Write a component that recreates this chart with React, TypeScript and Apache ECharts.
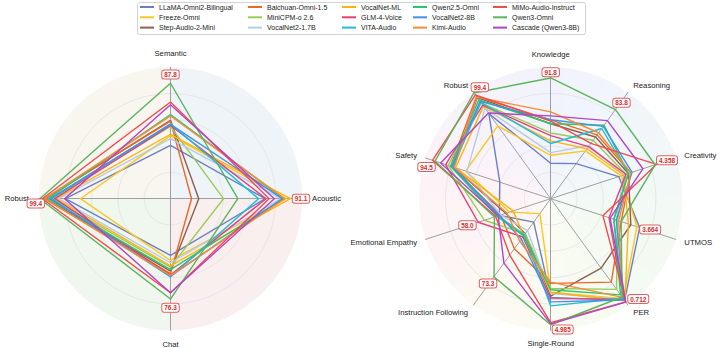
import React, { useEffect, useRef } from 'react';
import * as echarts from 'echarts';

const models = [
  'LLaMA-Omni2-Bilingual', 'Freeze-Omni', 'Step-Audio-2-Mini',
  'Baichuan-Omni-1.5', 'MiniCPM-o 2.6', 'VocalNet2-1.7B',
  'VocalNet-ML', 'GLM-4-Voice', 'VITA-Audio',
  'Qwen2.5-Omni', 'VocalNet2-8B', 'Kimi-Audio',
  'MiMo-Audio-Instruct', 'Qwen3-Omni', 'Cascade (Qwen3-8B)',
];
const seriesColors = [
  '#6b7fc4', '#ffc61e', '#8c6050',
  '#f26522', '#9bcb58', '#b3cde8',
  '#ffb20f', '#e5407a', '#22bcd4',
  '#27c96a', '#3f92e8', '#f58b38',
  '#f24b4b', '#5ab55e', '#b244c8',
];

// Left radar (order counter-clockwise from top)
const leftAxisNames = ['Semantic', 'Robust', 'Chat', 'Acoustic'];
const semantic = [40.6, 48.0, 59.6, 59.0, 55.0, 45.6, 49.0, 55.8, 57.0, 64.0, 56.5, 63.0, 73.5, 87.8, 71.5];
const robust = [80.0, 68.5, 95.0, 96.0, 90.0, 85.0, 87.0, 88.0, 90.5, 93.0, 91.5, 95.5, 97.5, 99.4, 80.5];
const chat = [43.1, 47.0, 55.0, 57.0, 52.0, 48.7, 51.0, 58.0, 59.5, 54.0, 59.0, 58.5, 71.5, 76.3, 71.5];
const acoustic = [72.0, 88.0, 21.5, 16.0, 40.3, 84.0, 91.1, 72.7, 67.0, 86.0, 85.0, 87.0, 75.0, 51.2, 79.0];

// Right radar (order counter-clockwise from top)
const rightAxisNames = [
  'Knowledge', 'Robust', 'Safety', 'Emotional Empathy', 'Instruction Following',
  'Single-Round', 'PER', 'UTMOS', 'Creativity', 'Reasoning',
];
const knowledge = [27, 33, 57, 60, 50, 35, 44, 48, 42, 57, 60, 66, 59, 91.8, 63];
const safety = [40.7, 68, 78, 80, 82, 67, 76, 84, 78, 80, 79, 77, 94.5, 92.5, 88];
const emotionalEmpathy = [41, 33, 36, 40, 53, 40, 30, 58.0, 42, 43, 41, 35, 44, 45, 42];
const instructionFollowing = [22, 14, 33, 47, 33, 30, 35, 36, 34, 35, 38, 40, 53, 73.3, 60.5];
const singleRound = [3.9, 3.7, 3.85, 3.35, 3.55, 3.75, 3.7, 3.95, 4.24, 3.6, 4.08, 3.3, 4.9, 4.985, 4.95];
const per = [1.1, 1.5, 8.7, 5.4, 3.7, 1.3, 1.0, 1.4, 1.6, 2.4, 1.2, 1.8, 0.75, 1.9, 0.712];
const utmos = [3.664, 3.55, 3.3, 2.9, 2.75, 2.7, 3.2, 2.4, 2.6, 2.6, 2.7, 2.8, 2.15, 2.9, 2.45];
const creativity = [2.8, 2.9, 3.2, 3.3, 3.1, 3.0, 3.0, 3.1, 3.2, 3.2, 3.35, 3.3, 4.358, 4.3, 3.8];
const reasoning = [33, 45, 58, 60, 55, 50, 47, 49, 66, 69, 68, 62, 52, 83.8, 73.4];

const PER_CAP = 25; // PER is lower-is-better: plotted as PER_CAP - PER

const FONT = "'Liberation Sans', Arial, Helvetica, sans-serif";

const leftCols = [semantic, robust, chat, acoustic];
const leftMax = [100, 100, 100, 100];
const leftDec = [1, 1, 1, 1];
const rightCols = [knowledge, robust, safety, emotionalEmpathy, instructionFollowing, singleRound, per, utmos, creativity, reasoning];
const rightMax = [100, 100, 100, 100, 100, 5.2, PER_CAP, 5.15, 5.15, 100];
const rightDec = [1, 1, 1, 1, 1, 3, 3, 3, 3, 1];
const rightLowerBetter = [false, false, false, false, false, false, true, false, false, false];

const CL: [number, number] = [170.5, 198.7];
const CR: [number, number] = [550.7, 198.7];
const R = 131.5;

// label placement per axis (style only)
const leftLabelPos: any[] = [
  { position: 'top', distance: 5, offset: [0, 0] },
  { position: 'bottom', distance: 1, offset: [-4, 0] },
  { position: 'bottom', distance: 5, offset: [0, 0] },
  { position: 'right', distance: 2, offset: [0, 0] },
];
const rightLabelPos: any[] = [
  { position: 'top', distance: 2, offset: [0, 0] },
  { position: 'top', distance: 2, offset: [6, 0] },
  { position: 'bottom', distance: 3, offset: [-6, 0] },
  { position: 'left', distance: 2, offset: [0, 3] },
  { position: 'bottom', distance: 3, offset: [-6, 0] },
  { position: 'bottom', distance: 1, offset: [12, 0] },
  { position: 'right', distance: 2, offset: [0, -3] },
  { position: 'right', distance: 0, offset: [0, 2] },
  { position: 'right', distance: 0, offset: [0, -4] },
  { position: 'top', distance: 3, offset: [6, 0] },
];

function hexToRgb(h: string) {
  const v = parseInt(h.slice(1), 16);
  return [(v >> 16) & 255, (v >> 8) & 255, v & 255];
}
function lerpColor(a: string, b: string, t: number) {
  const A = hexToRgb(a), B = hexToRgb(b);
  const c = A.map((x, i) => Math.round(x + (B[i] - x) * t));
  return `rgb(${c[0]},${c[1]},${c[2]})`;
}

export default function App() {
  const ref = useRef<HTMLDivElement>(null);
  useEffect(() => {
    document.body.style.margin = '0';
    const chart = echarts.init(ref.current!, null, { renderer: 'svg' });

    const leftVal = (i: number) => leftCols.map((col) => col[i]);
    const rightVal = (i: number) => rightCols.map((col, k) => (k === 6 ? PER_CAP - col[i] : col[i]));

    const baseRadar = {
      radius: R,
      startAngle: 90,
      shape: 'circle',
      splitNumber: 5,
      axisName: { color: '#222', fontSize: 7.7, fontFamily: FONT },
      axisLine: { lineStyle: { color: '#a0a0a0', width: 1 } },
      axisTick: { show: false },
      axisLabel: { show: false },
      splitLine: {
        lineStyle: {
          color: ['#e2e2e2', '#e2e2e2', '#e2e2e2', '#e2e2e2', '#e2e2e2', 'rgba(0,0,0,0)'],
          width: 0.8,
        },
      },
      splitArea: { show: false },
    };

    const radar = [
      {
        ...baseRadar,
        center: CL,
        nameGap: 10,
        indicator: leftAxisNames.map((n, k) => ({ name: n, min: 0, max: leftMax[k] })),
      },
      {
        ...baseRadar,
        center: CR,
        nameGap: 9,
        indicator: rightAxisNames.map((n, k) => ({ name: n, min: 0, max: rightMax[k] })),
      },
    ];

    const series: any[] = [];
    models.forEach((m, i) => {
      series.push({
        type: 'radar', radarIndex: 0, name: m, symbol: 'none', color: seriesColors[i],
        lineStyle: { width: 1.4, color: seriesColors[i] }, itemStyle: { color: seriesColors[i] },
        data: [{ name: m, value: leftVal(i) }], z: 2,
      });
    });
    models.forEach((m, i) => {
      series.push({
        type: 'radar', radarIndex: 1, name: m, symbol: 'none', color: seriesColors[i],
        lineStyle: { width: 1.4, color: seriesColors[i] }, itemStyle: { color: seriesColors[i] },
        data: [{ name: m, value: rightVal(i) }], z: 2,
      });
    });

    const rich = {
      b: {
        color: '#d42a2a', fontWeight: 'bold', fontSize: 6.4, fontFamily: FONT,
        backgroundColor: '#fff', borderColor: '#e06060', borderWidth: 1, borderRadius: 2,
        padding: [1, 2, 1, 2], lineHeight: 6.5,
      },
    };

    const addAnnotations = (radarIndex: number, cols: number[][], dec: number[], lower: boolean[], pos: any[], valFn: (i: number) => number[]) => {
      cols.forEach((col, k) => {
        let best = 0;
        col.forEach((v, i) => {
          if (lower[k] ? v < col[best] : v > col[best]) best = i;
        });
        const vals = valFn(best);
        const text = col[best].toFixed(dec[k]);
        series.push({
          type: 'radar', radarIndex, name: `__ann_${radarIndex}_${k}`,
          symbol: 'circle', symbolSize: 1,
          itemStyle: { color: 'rgba(0,0,0,0)' },
          lineStyle: { width: 0, opacity: 0 },
          z: 5, silent: true,
          label: {
            show: true,
            position: pos[k].position,
            distance: pos[k].distance,
            offset: pos[k].offset,
            formatter: (p: any) => {
              const di = p.dimensionIndex;
              const match = di != null ? di === k : Math.abs(p.value - vals[k]) < 1e-9;
              return match ? `{b|${text}}` : '';
            },
            rich,
          },
          data: [{ name: `__ann_${radarIndex}_${k}`, value: vals }],
        });
      });
    };
    addAnnotations(0, leftCols, leftDec, [false, false, false, false], leftLabelPos, leftVal);
    addAnnotations(1, rightCols, rightDec, rightLowerBetter, rightLabelPos, rightVal);

    // backgrounds
    const graphics: any[] = [];
    const quad = [
      { s: -90, e: 0, c: '#eff4f9' },
      { s: 0, e: 90, c: '#f9efef' },
      { s: 90, e: 180, c: '#eff7ee' },
      { s: 180, e: 270, c: '#f9f5ef' },
    ];
    quad.forEach((q) => {
      graphics.push({
        type: 'sector', z: -10, silent: true,
        shape: { cx: CL[0], cy: CL[1], r: R, r0: 0, startAngle: (q.s * Math.PI) / 180, endAngle: (q.e * Math.PI) / 180 },
        style: { fill: q.c, stroke: q.c, lineWidth: 0.3 },
      });
    });
    const rightBg = ['#f1f3fc', '#f6f3fc', '#fcf3f8', '#fdf4f5', '#fdf9f3', '#fbfbf3', '#f5fbf2', '#f3faf2', '#f2f7f8', '#f1f5fc'];
    const steps = 10;
    for (let k = 0; k < 10; k++) {
      for (let s = 0; s < steps; s++) {
        const a0 = 90 + 36 * k + (36 / steps) * s;
        const a1 = a0 + 36 / steps;
        const col = lerpColor(rightBg[k], rightBg[(k + 1) % 10], (s + 0.5) / steps);
        graphics.push({
          type: 'sector', z: -10, silent: true,
          shape: { cx: CR[0], cy: CR[1], r: R, r0: 0, startAngle: (-(a1 + 0.2) * Math.PI) / 180, endAngle: (-a0 * Math.PI) / 180 },
          style: { fill: col },
        });
      }
    }
    graphics.push({
      type: 'rect', z: -5, silent: true,
      shape: { x: 137.5, y: 2.5, width: 448, height: 32, r: 2 },
      style: { fill: '#fff', stroke: '#d4d4d4', lineWidth: 1 },
    });

    const legendCols = [140, 248, 342, 413, 493];
    const legend = legendCols.map((x, c) => ({
      orient: 'vertical', left: x, top: 2, padding: 0,
      itemWidth: 14, itemHeight: 2, itemGap: 0.3, icon: 'rect',
      selectedMode: false,
      data: models.slice(c * 3, c * 3 + 3),
      textStyle: { fontSize: 7, color: '#222', lineHeight: 10, fontFamily: FONT },
    }));

    chart.setOption({
      animation: false,
      backgroundColor: '#fff',
      textStyle: { fontFamily: FONT },
      graphic: { elements: graphics },
      legend,
      radar,
      series,
    } as any);

    return () => chart.dispose();
  }, []);
  return <div ref={ref} style={{ width: 722, height: 348 }} />;
}
